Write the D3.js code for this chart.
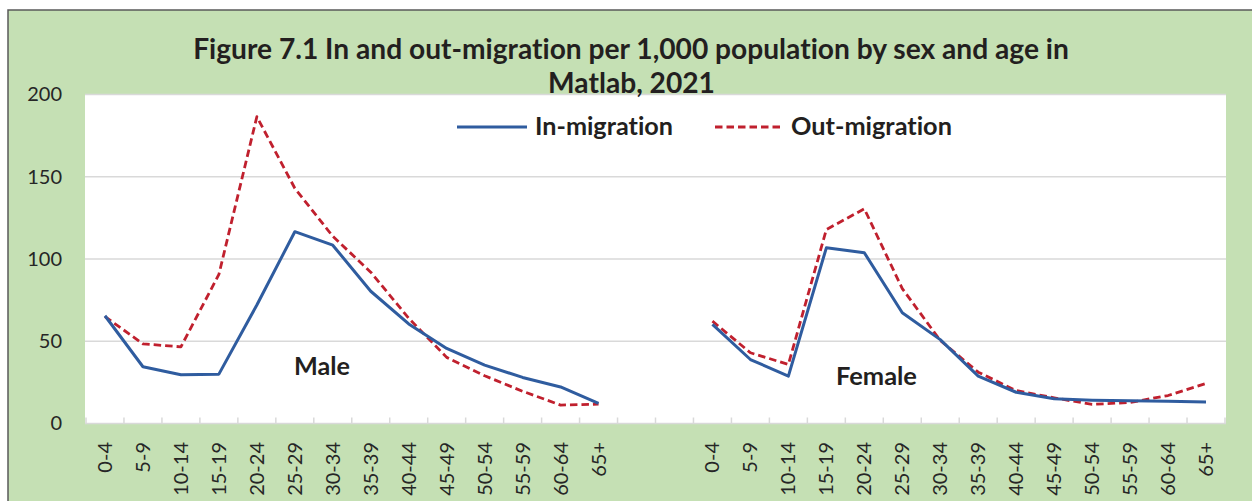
<!DOCTYPE html>
<html><head><meta charset="utf-8">
<script src="https://cdn.jsdelivr.net/npm/d3@7"></script>
<style>html,body{margin:0;padding:0;background:#fff;overflow:hidden} svg{display:block} text{font-variant-ligatures:none;font-feature-settings:"liga" 0,"clig" 0}</style>
</head><body>
<script>
// ---- data ----
const ageGroups = ["0-4","5-9","10-14","15-19","20-24","25-29","30-34","35-39","40-44","45-49","50-54","55-59","60-64","65+"];
const maleIn    = [65.5, 34.5, 29.6, 30.0, 72.0, 116.6, 108.4, 80.4, 60.5, 45.6, 35.5, 28.0, 22.2, 12.2];
const maleOut   = [65.0, 48.4, 46.6, 90.6, 186.5, 143.0, 113.8, 92.0, 64.0, 40.2, 29.0, 19.6, 11.2, 11.8];
const femaleIn  = [60.2, 38.9, 28.8, 106.8, 103.8, 67.3, 51.0, 28.8, 19.0, 15.0, 14.2, 13.8, 13.6, 13.0];
const femaleOut = [62.2, 43.0, 35.9, 117.9, 130.5, 82.0, 50.5, 31.2, 20.0, 15.6, 11.6, 12.8, 17.0, 24.3];
const yTicks = [0, 50, 100, 150, 200];
const titleLines = ["Figure 7.1 In and out-migration per 1,000 population by sex and age in", "Matlab, 2021"];
const seriesNames = ["In-migration", "Out-migration"];
const panelNames = ["Male", "Female"];

// ---- layout ----
const W = 1252, H = 501;
const plotL = 86, plotR = 1225, plotT = 94.5, plotB = 423.5;
const green = "#c5e0b4", grid = "#d9d9d9", blue = "#2f5c9f", red = "#c0202e", ink = "#231f20";
const FONT = "Lato, 'Open Sans', sans-serif";
const DASH = "7.5,4";

const svg = d3.select("body").append("svg").attr("width", W).attr("height", H);
svg.append("rect").attr("x", 8).attr("y", 10).attr("width", W).attr("height", H).attr("fill", green);
svg.append("path").attr("d", `M8,${H}V10H${W}`).attr("stroke", "#595959").attr("stroke-width", 1.5).attr("fill", "none");
svg.append("rect").attr("x", 85).attr("y", plotT).attr("width", plotR - 85 + 1).attr("height", plotB - plotT).attr("fill", "#fff");

const keys = [...ageGroups.map(a => "M " + a), "gap1", "gap2", ...ageGroups.map(a => "F " + a)];
const x = d3.scaleBand().domain(keys).range([plotL, plotR]).padding(0);
const y = d3.scaleLinear().domain([0, 200]).range([plotB, plotT]);

// gridlines
svg.append("g").selectAll("line").data(yTicks).join("line")
  .attr("x1", 85).attr("x2", plotR + 1)
  .attr("y1", d => y(d)).attr("y2", d => y(d))
  .attr("stroke", grid).attr("stroke-width", 1.5);

// category boundary ticks
const bounds = keys.map(k => x(k)).concat([x(keys[keys.length - 1]) + x.bandwidth()]);
svg.append("g").selectAll("line").data(bounds).join("line")
  .attr("x1", d => d).attr("x2", d => d)
  .attr("y1", plotB).attr("y2", plotB - 6)
  .attr("stroke", grid).attr("stroke-width", 1.5);

// y axis
const yAxis = svg.append("g").attr("transform", `translate(85,0)`)
  .call(d3.axisLeft(y).tickValues(yTicks).tickSize(0).tickPadding(23));
yAxis.select(".domain").remove();
yAxis.selectAll("text").attr("font-family", FONT).attr("font-size", 20).attr("fill", "#262626");

// x axis
const xAxis = svg.append("g").attr("transform", `translate(0,${plotB})`)
  .call(d3.axisBottom(x).tickSize(0).tickFormat(d => d.startsWith("gap") ? "" : d.slice(2)));
xAxis.select(".domain").remove();
xAxis.selectAll("text")
  .attr("transform", "rotate(-90)")
  .attr("text-anchor", "end")
  .attr("x", -18.5).attr("y", 0).attr("dy", "0.35em")
  .attr("font-family", FONT).attr("font-size", 20).attr("fill", "#262626");

// lines
const line = d3.line().x(d => x(d.k) + x.bandwidth() / 2).y(d => y(d.v));
const mk = (prefix, vals) => ageGroups.map((a, i) => ({ k: prefix + " " + a, v: vals[i] }));
const series = [
  { d: mk("M", maleOut), c: red, dash: DASH, w: 2.8 },
  { d: mk("F", femaleOut), c: red, dash: DASH, w: 2.8 },
  { d: mk("M", maleIn), c: blue, dash: null, w: 3 },
  { d: mk("F", femaleIn), c: blue, dash: null, w: 3 },
];
svg.append("g").selectAll("path").data(series).join("path")
  .attr("d", s => line(s.d)).attr("fill", "none")
  .attr("stroke", s => s.c).attr("stroke-width", s => s.w)
  .attr("stroke-dasharray", s => s.dash).attr("stroke-linejoin", "round");

// helper: fit bold text to a width
function fit(sel, target) {
  const w = sel.node().getComputedTextLength();
  const fs = parseFloat(sel.attr("font-size"));
  sel.attr("font-size", fs * target / w);
}

// title
const t1 = svg.append("text").attr("x", 631).attr("y", 59).attr("text-anchor", "middle")
  .attr("font-family", FONT).attr("font-weight", 700).attr("font-size", 25).attr("fill", ink).text(titleLines[0]);
fit(t1, 876);
const tfs = t1.attr("font-size");
svg.append("text").attr("x", 631.5).attr("y", 92.5).attr("text-anchor", "middle")
  .attr("font-family", FONT).attr("font-weight", 700).attr("font-size", tfs).attr("fill", ink).text(titleLines[1]);

// legend
const leg = [
  { name: seriesNames[0], c: blue, dash: null, w: 3, x1: 457, x2: 527, tx: 535, tw: 138 },
  { name: seriesNames[1], c: red, dash: DASH, w: 2.8, x1: 715, x2: 783, tx: 791, tw: 161 },
];
leg.forEach(l => {
  svg.append("line").attr("x1", l.x1).attr("x2", l.x2).attr("y1", 127).attr("y2", 127)
    .attr("stroke", l.c).attr("stroke-width", l.w).attr("stroke-dasharray", l.dash);
  const t = svg.append("text").attr("x", l.tx).attr("y", 135)
    .attr("font-family", FONT).attr("font-weight", 700).attr("font-size", 22).attr("fill", ink).text(l.name);
  fit(t, l.tw);
});

// panel labels
const m = svg.append("text").attr("x", 294).attr("y", 375).attr("font-family", FONT).attr("font-weight", 700)
  .attr("font-size", 22).attr("fill", ink).text(panelNames[0]);
fit(m, 56);
const f = svg.append("text").attr("x", 836).attr("y", 385).attr("font-family", FONT).attr("font-weight", 700)
  .attr("font-size", 22).attr("fill", ink).text(panelNames[1]);
fit(f, 81);
</script>
</body></html>
